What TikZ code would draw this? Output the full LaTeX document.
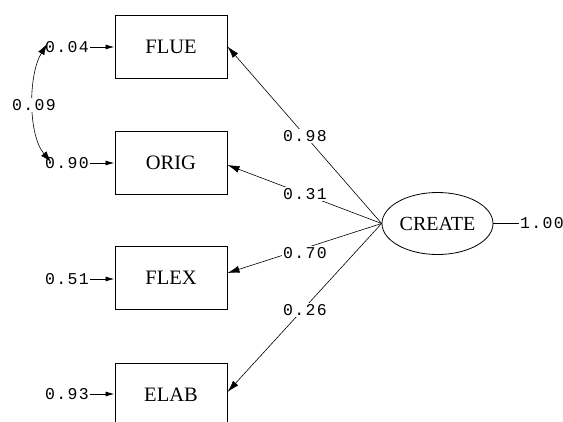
\documentclass[tikz,border=0pt]{standalone}
\usepackage{fontspec}
\setmainfont{Liberation Serif}
\newfontfamily\numfont[LetterSpace=8]{Liberation Mono}
\usetikzlibrary{arrows.meta,calc,shapes.geometric}
\begin{document}
\begin{tikzpicture}[x=1bp,y=-1bp,
  box/.style={draw,line width=1bp,minimum width=112bp,minimum height=63bp,inner sep=0pt,font=\fontsize{20.5bp}{22bp}\selectfont},
  lat/.style={draw,ellipse,line width=0.8bp,minimum width=111bp,minimum height=62bp,inner sep=0pt,font=\fontsize{20bp}{22bp}\selectfont},
  num/.style={font=\numfont\fontsize{16.5bp}{18bp}\selectfont,inner sep=1bp},
  lbl/.style={num,fill=white},
  path/.style={line width=0.6bp,-{Latex[length=12bp,width=7bp]}},
  err/.style={line width=0.9bp,-{Latex[length=9bp,width=5bp]}}
]
\useasboundingbox (0,0) rectangle (563,421);
\clip (0,0) rectangle (563,421);
\node[box] (flue) at (171,46.5) {FLUE};
\node[box] (orig) at (171,162.5) {ORIG};
\node[box] (flex) at (171,277.5) {FLEX};
\node[box] (elab) at (171,394.5) {ELAB};
\node[lat] (create) at (437.5,223.5) {CREATE};
\node[num,anchor=west] (var) at (519,223.5) {1.00};
\draw[line width=0.7bp] (create.east) -- (var.west);
\node[num] (e1) at (67,47) {0.04};
\node[num] (e2) at (67,163) {0.90};
\node[num] (e3) at (67,279) {0.51};
\node[num] (e4) at (67,394) {0.93};
\draw[err] (e1.east) -- (flue.west |- e1.east);
\draw[err] (e2.east) -- (orig.west |- e2.east);
\draw[err] (e3.east) -- (flex.west |- e3.east);
\draw[err] (e4.east) -- (elab.west |- e4.east);
\coordinate (c1) at (47,44);
\coordinate (c2) at (51,162);
\draw[line width=0.6bp,{Latex[length=11bp,width=7bp]}-{Latex[length=11bp,width=7bp]}] (c1) .. controls (28,75) and (28,135) .. (c2);
\node[lbl] (cov) at (34,105) {0.09};
\coordinate (s) at (create.west);
\draw[path] (s) -- (flue.east);
\draw[path] (s) -- ($(orig.east)+(0,2.5)$);
\draw[path] (s) -- ($(flex.east)+(0,-4.5)$);
\draw[path] (s) -- ($(elab.east)+(0,-2.5)$);
\node[lbl] (w1) at (305,136) {0.98};
\node[lbl] (w2) at (305,194) {0.31};
\node[lbl] (w3) at (305,253) {0.70};
\node[lbl] (w4) at (305,310) {0.26};
\end{tikzpicture}
\end{document}
